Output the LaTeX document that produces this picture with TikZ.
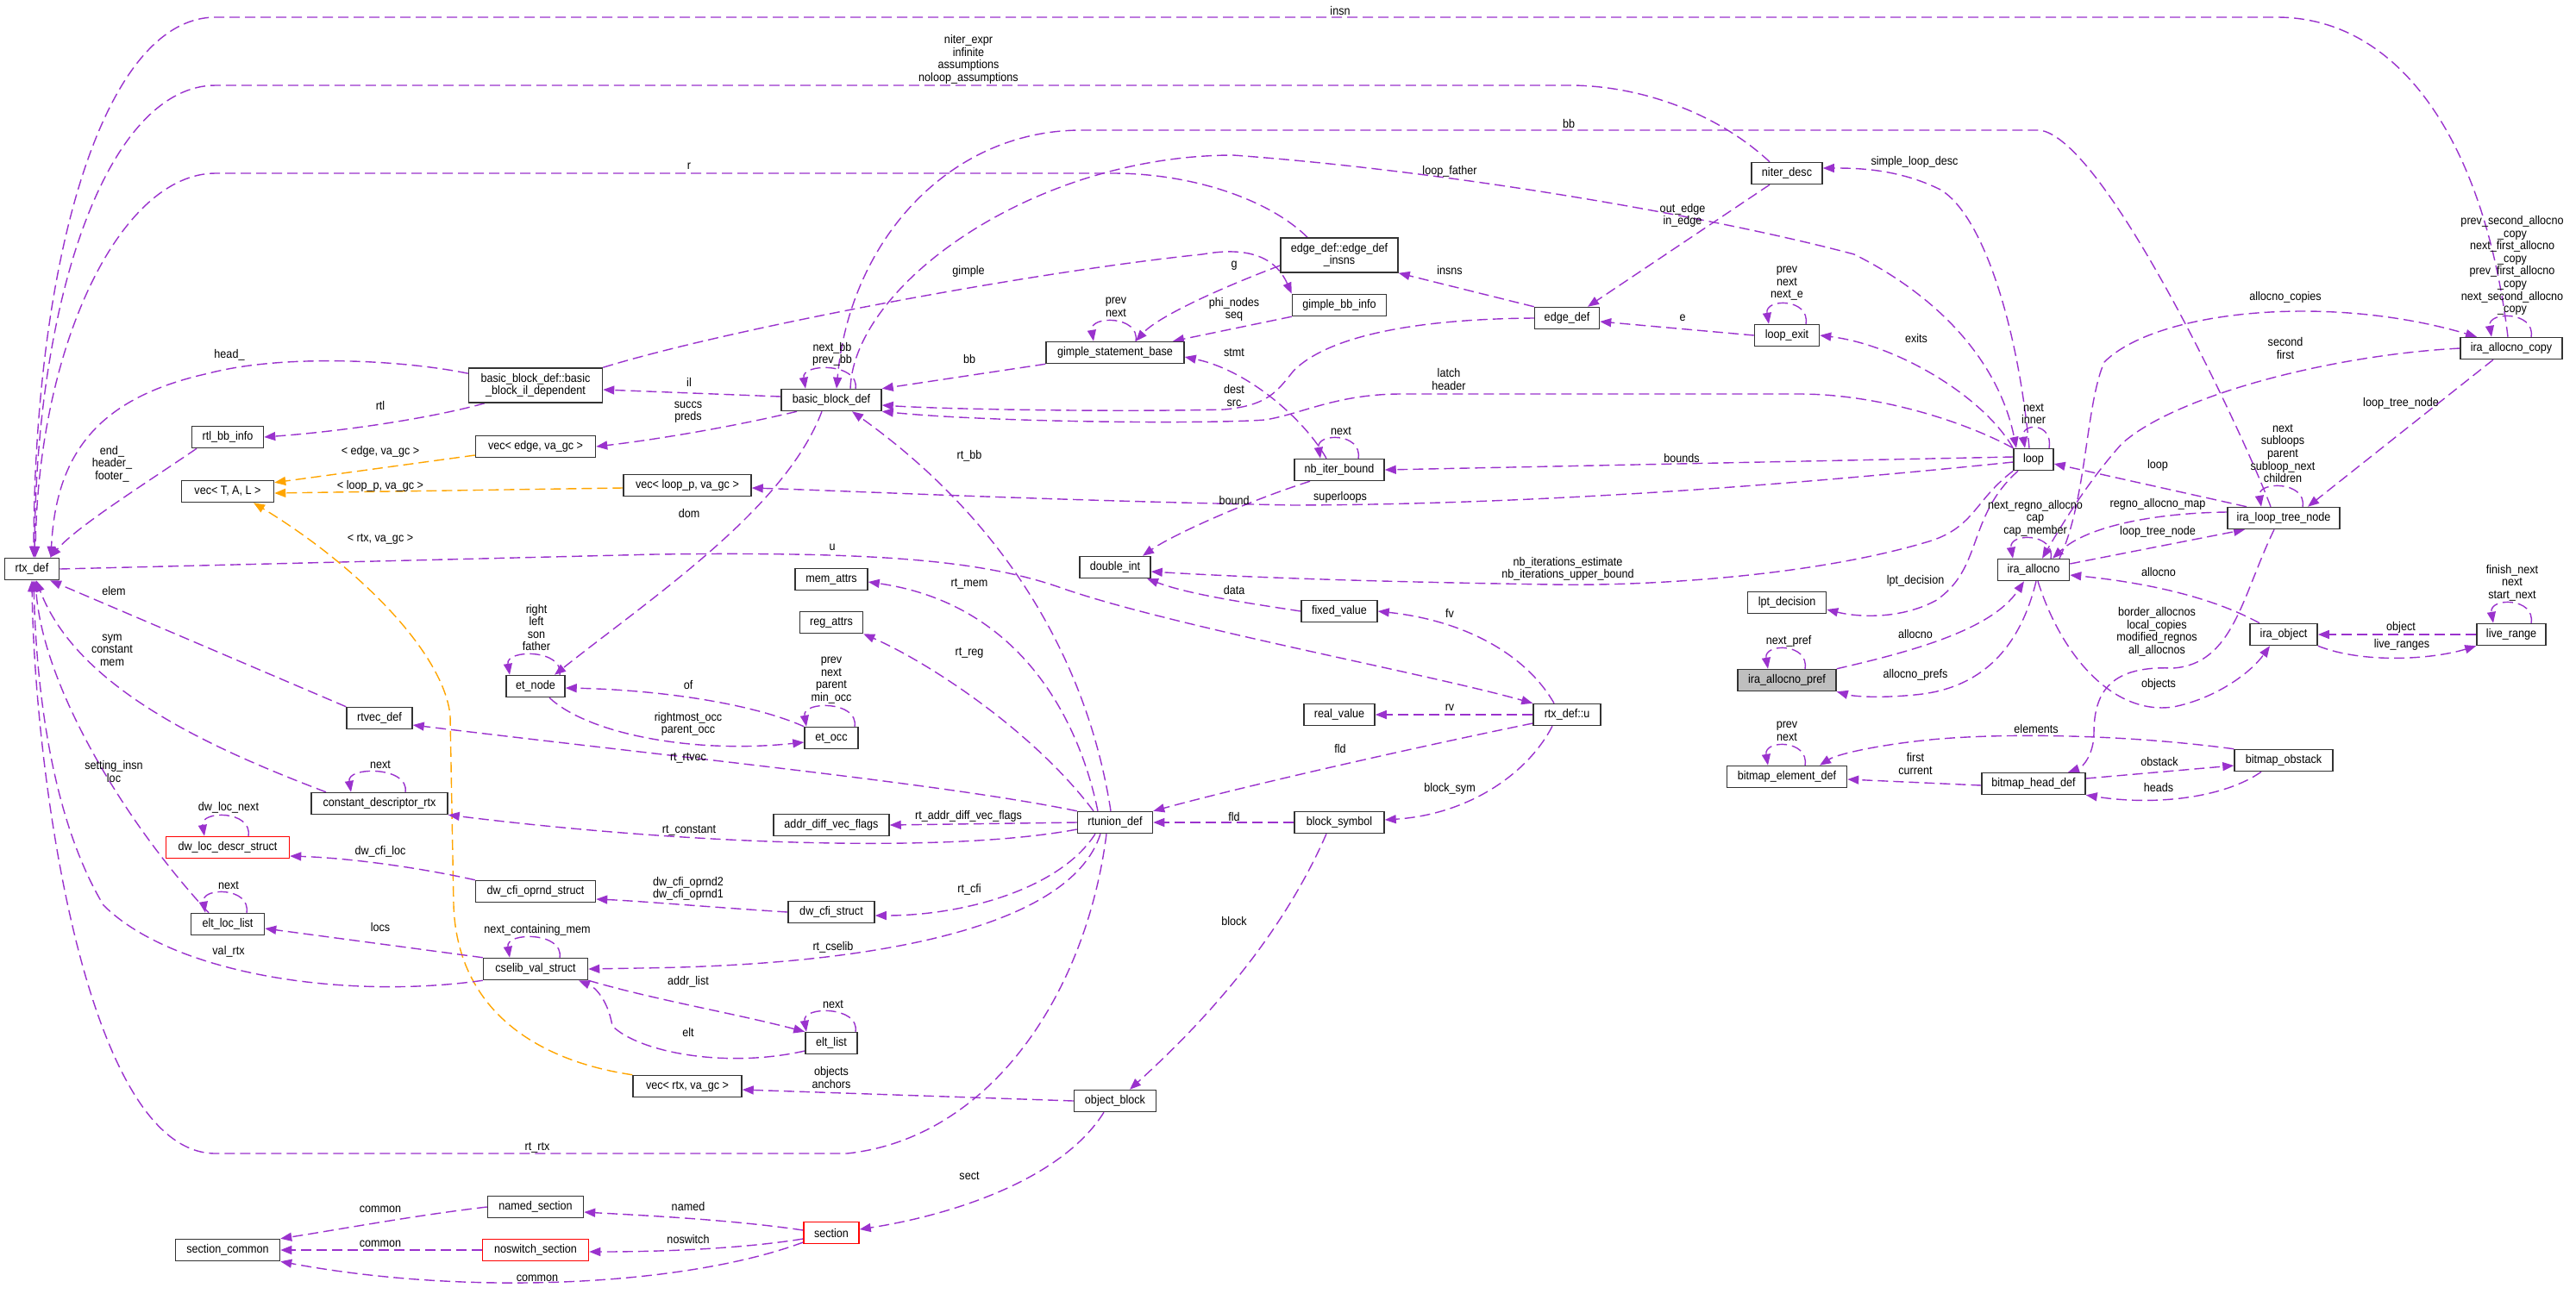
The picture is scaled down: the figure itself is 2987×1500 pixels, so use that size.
\documentclass[tikz,border=0pt]{standalone}
\usepackage{fontspec}
\setmainfont{Liberation Sans}[FakeStretch=0.9]
\usetikzlibrary{arrows.meta}
\definecolor{ec}{RGB}{154,50,205}
\definecolor{oc}{RGB}{255,165,0}
\definecolor{bc}{RGB}{51,51,51}
\definecolor{gf}{RGB}{191,191,191}
\pgfdeclarelayer{bg}
\pgfsetlayers{bg,main}
\newcommand\lblfont{\fontsize{14pt}{14.6pt}\selectfont}
\newcommand\myloop[3]{\draw[e] ([xshift=#2pt]#1.north) .. controls +(5,-30) and +(-5,-30) .. ([xshift=#3pt]#1.north);}
\begin{document}
\begin{tikzpicture}[x=1pt,y=-1pt,
  box/.style={draw=bc, line width=1.5pt, fill=white, minimum height=25pt, inner sep=0pt, font=\lblfont, align=center},
  box2/.style={box, minimum height=40pt},
  boxr/.style={box, draw=red},
  boxg/.style={box, fill=gf},
  lbl/.style={font=\lblfont, align=center, inner sep=0pt},
  e/.style={draw=ec, line width=1.4pt, dash pattern=on 12pt off 6pt, -{Triangle[length=13pt,width=10pt]}},
  eo/.style={e, draw=oc}]
\useasboundingbox (0,0) rectangle (2987,1500);
% ---------- nodes
\node[box, minimum width=63pt] (rtx) at (37,660) {rtx\_def};
\node[box, minimum width=83pt] (rtlbb) at (264,507) {rtl\_bb\_info};
\node[box, minimum width=107pt] (vecT) at (264,570) {vec< T, A, L >};
\node[box2, minimum width=155pt] (bbil) at (621,447) {basic\_block\_def::basic\\\_block\_il\_dependent};
\node[box, minimum width=139pt] (vecE) at (621,518) {vec< edge, va\_gc >};
\node[box, minimum width=148pt] (vecL) at (797,563) {vec< loop\_p, va\_gc >};
\node[box, minimum width=68pt] (etnode) at (621,796) {et\_node};
\node[box, minimum width=76pt] (rtvec) at (440,833) {rtvec\_def};
\node[box, minimum width=158pt] (cdr) at (440,932) {constant\_descriptor\_rtx};
\node[boxr, minimum width=143pt] (dwloc) at (264,983) {dw\_loc\_descr\_struct};
\node[box, minimum width=139pt] (dwcfio) at (621,1034) {dw\_cfi\_oprnd\_struct};
\node[box, minimum width=85pt] (eltloc) at (264,1072) {elt\_loc\_list};
\node[box, minimum width=121pt] (cselib) at (621,1124) {cselib\_val\_struct};
\node[box, minimum width=126pt] (vecR) at (797,1260) {vec< rtx, va\_gc >};
\node[box, minimum width=111pt] (named) at (621,1400) {named\_section};
\node[box, minimum width=121pt] (seccom) at (264,1450) {section\_common};
\node[boxr, minimum width=123pt] (noswitch) at (621,1450) {noswitch\_section};
\node[box, minimum width=116pt] (bbdef) at (964,464) {basic\_block\_def};
\node[box, minimum width=160pt] (gsb) at (1293,409) {gimple\_statement\_base};
\node[box2, minimum width=136pt] (einsns) at (1553,296) {edge\_def::edge\_def\\\_insns};
\node[box, minimum width=109pt] (gbb) at (1553,354) {gimple\_bb\_info};
\node[box, minimum width=75pt] (edgedef) at (1817,369) {edge\_def};
\node[box, minimum width=82pt] (niter) at (2072,201) {niter\_desc};
\node[box, minimum width=75pt] (lexit) at (2072,389) {loop\_exit};
\node[box, minimum width=104pt] (nbiter) at (1553,545) {nb\_iter\_bound};
\node[box, minimum width=82pt] (dint) at (1293,658) {double\_int};
\node[box, minimum width=84pt] (memattrs) at (964,672) {mem\_attrs};
\node[box, minimum width=73pt] (regattrs) at (964,722) {reg\_attrs};
\node[box, minimum width=62pt] (etocc) at (964,856) {et\_occ};
\node[box, minimum width=134pt] (adv) at (964,957) {addr\_diff\_vec\_flags};
\node[box, minimum width=87pt] (rtunion) at (1293,954) {rtunion\_def};
\node[box, minimum width=100pt] (dwcfi) at (964,1058) {dw\_cfi\_struct};
\node[box, minimum width=60pt] (eltlist) at (964,1210) {elt\_list};
\node[box, minimum width=95pt] (objblock) at (1293,1277) {object\_block};
\node[boxr, minimum width=64pt] (section) at (964,1430) {section};
\node[box, minimum width=88pt] (fixedv) at (1553,709) {fixed\_value};
\node[box, minimum width=82pt] (realv) at (1553,829) {real\_value};
\node[box, minimum width=78pt] (rtxu) at (1817,829) {rtx\_def::u};
\node[box, minimum width=104pt] (blocksym) at (1553,954) {block\_symbol};
\node[box, minimum width=46pt] (loop) at (2358,533) {loop};
\node[box, minimum width=91pt] (lpt) at (2072,699) {lpt\_decision};
\node[boxg, minimum width=114pt] (pref) at (2072,789) {ira\_allocno\_pref};
\node[box, minimum width=139pt] (bed) at (2072,901) {bitmap\_element\_def};
\node[box, minimum width=83pt] (allocno) at (2358,661) {ira\_allocno};
\node[box, minimum width=130pt] (iltn) at (2648,601) {ira\_loop\_tree\_node};
\node[box, minimum width=118pt] (copy) at (2912,404) {ira\_allocno\_copy};
\node[box, minimum width=78pt] (iobj) at (2648,736) {ira\_object};
\node[box, minimum width=80pt] (lrange) at (2912,736) {live\_range};
\node[box, minimum width=114pt] (bobst) at (2648,882) {bitmap\_obstack};
\node[box, minimum width=120pt] (bhead) at (2358,909) {bitmap\_head\_def};
% ---------- labels
\node[lbl] (l01) at (1554,12) {insn};
\node[lbl] (l02) at (1123,69) {niter\_expr\\infinite\\assumptions\\noloop\_assumptions};
\node[lbl] (l03) at (799,193) {r};
\node[lbl] (l04) at (1819,143) {bb};
\node[lbl] (l05) at (1681,199) {loop\_father};
\node[lbl] (l06) at (2220,188) {simple\_loop\_desc};
\node[lbl] (l07) at (1680,440) {latch\\header};
\node[lbl] (l08) at (1431,459) {dest\\src};
\node[lbl] (l09) at (1123,315) {gimple};
\node[lbl] (l10) at (799,443) {il};
\node[lbl] (l11) at (798,478) {succs\\preds};
\node[lbl] (l12) at (1431,308) {g};
\node[lbl] (l13) at (1431,359) {phi\_nodes\\seq};
\node[lbl] (l14) at (1294,356) {prev\\next};
\node[lbl] (l15) at (1124,416) {bb};
\node[lbl] (l16) at (1431,409) {stmt};
\node[lbl] (l17) at (965,411) {next\_bb\\prev\_bb};
\node[lbl] (l18) at (1681,313) {insns};
\node[lbl] (l19) at (1951,250) {out\_edge\\in\_edge};
\node[lbl] (l20) at (1951,369) {e};
\node[lbl] (l21) at (2072,329) {prev\\next\\next\_e};
\node[lbl] (l22) at (2222,392) {exits};
\node[lbl] (l23) at (2358,480) {next\\inner};
\node[lbl] (l24) at (2650,345) {allocno\_copies};
\node[lbl] (l25) at (2650,404) {second\\first};
\node[lbl] (l26) at (2784,468) {loop\_tree\_node};
\node[lbl] (l27) at (2913,308) {prev\_second\_allocno\\\_copy\\next\_first\_allocno\\\_copy\\prev\_first\_allocno\\\_copy\\next\_second\_allocno\\\_copy};
\node[lbl] (l28) at (2647,526) {next\\subloops\\parent\\subloop\_next\\children};
\node[lbl] (l29) at (2502,540) {loop};
\node[lbl] (l30) at (2502,585) {regno\_allocno\_map};
\node[lbl] (l31) at (2502,617) {loop\_tree\_node};
\node[lbl] (l32) at (2360,601) {next\_regno\_allocno\\cap\\cap\_member};
\node[lbl] (l33) at (2503,663) {allocno};
\node[lbl] (l34) at (2501,733) {border\_allocnos\\local\_copies\\modified\_regnos\\all\_allocnos};
\node[lbl] (l35) at (2503,794) {objects};
\node[lbl] (l36) at (2784,728) {object};
\node[lbl] (l37) at (2785,748) {live\_ranges};
\node[lbl] (l38) at (2913,676) {finish\_next\\next\\start\_next};
\node[lbl] (l39) at (2361,845) {elements};
\node[lbl] (l40) at (2221,886) {first\\current};
\node[lbl] (l41) at (2072,848) {prev\\next};
\node[lbl] (l42) at (2504,883) {obstack};
\node[lbl] (l43) at (2503,913) {heads};
\node[lbl] (l44) at (2074,744) {next\_pref};
\node[lbl] (l45) at (2221,735) {allocno};
\node[lbl] (l46) at (2221,783) {allocno\_prefs};
\node[lbl] (l47) at (2221,674) {lpt\_decision};
\node[lbl] (l48) at (1950,531) {bounds};
\node[lbl] (l49) at (1554,577) {superloops};
\node[lbl] (l50) at (1431,580) {bound};
\node[lbl] (l51) at (1818,660) {nb\_iterations\_estimate\\nb\_iterations\_upper\_bound};
\node[lbl] (l52) at (1431,684) {data};
\node[lbl] (l53) at (1681,711) {fv};
\node[lbl] (l54) at (1681,821) {rv};
\node[lbl] (l55) at (1554,868) {fld};
\node[lbl] (l56) at (1431,947) {fld};
\node[lbl] (l57) at (1681,915) {block\_sym};
\node[lbl] (l58) at (1431,1068) {block};
\node[lbl] (l59) at (965,635) {u};
\node[lbl] (l60) at (441,625) {< rtx, va\_gc >};
\node[lbl] (l61) at (441,524) {< edge, va\_gc >};
\node[lbl] (l62) at (441,564) {< loop\_p, va\_gc >};
\node[lbl] (l63) at (799,595) {dom};
\node[lbl] (l64) at (622,728) {right\\left\\son\\father};
\node[lbl] (l65) at (798,794) {of};
\node[lbl] (l66) at (798,840) {rightmost\_occ\\parent\_occ};
\node[lbl] (l67) at (964,789) {prev\\next\\parent\\min\_occ};
\node[lbl] (l68) at (1124,529) {rt\_bb};
\node[lbl] (l69) at (1124,677) {rt\_mem};
\node[lbl] (l70) at (1124,757) {rt\_reg};
\node[lbl] (l71) at (798,879) {rt\_rtvec};
\node[lbl] (l72) at (1123,947) {rt\_addr\_diff\_vec\_flags};
\node[lbl] (l73) at (799,963) {rt\_constant};
\node[lbl] (l74) at (441,887) {next};
\node[lbl] (l75) at (132,685) {elem};
\node[lbl] (l76) at (130,754) {sym\\constant\\mem};
\node[lbl] (l77) at (132,895) {setting\_insn\\loc};
\node[lbl] (l78) at (265,1104) {val\_rtx};
\node[lbl] (l79) at (623,1331) {rt\_rtx};
\node[lbl] (l80) at (265,937) {dw\_loc\_next};
\node[lbl] (l81) at (441,988) {dw\_cfi\_loc};
\node[lbl] (l82) at (798,1031) {dw\_cfi\_oprnd2\\dw\_cfi\_oprnd1};
\node[lbl] (l83) at (1124,1032) {rt\_cfi};
\node[lbl] (l84) at (966,1099) {rt\_cselib};
\node[lbl] (l85) at (623,1079) {next\_containing\_mem};
\node[lbl] (l86) at (441,1075) {locs};
\node[lbl] (l87) at (265,1027) {next};
\node[lbl] (l88) at (798,1139) {addr\_list};
\node[lbl] (l89) at (798,1197) {elt};
\node[lbl] (l90) at (966,1165) {next};
\node[lbl] (l91) at (964,1250) {objects\\anchors};
\node[lbl] (l92) at (1124,1364) {sect};
\node[lbl] (l93) at (798,1399) {named};
\node[lbl] (l94) at (798,1437) {noswitch};
\node[lbl] (l95) at (623,1483) {common};
\node[lbl] (l96) at (441,1403) {common};
\node[lbl] (l97) at (441,1443) {common};
\node[lbl] (l98) at (266,412) {head\_};
\node[lbl] (l99) at (441,470) {rtl};
\node[lbl] (l100) at (130,538) {end\_\\header\_\\footer\_};
\node[lbl] (l101) at (1555,500) {next};
% ---------- edges
\begin{pgfonlayer}{bg}
% long top curves into rtx_def
\draw[e] ([xshift=-4pt]copy.north) .. controls (2880,160) and (2780,20) .. (2640,20) -- (250,20) .. controls (120,20) and (40,300) .. ([xshift=2pt]rtx.north);
\draw[e] ([xshift=-20pt]niter.north) .. controls (1990,130) and (1900,99) .. (1820,99) -- (250,99) .. controls (130,99) and (42,330) .. ([xshift=3pt]rtx.north);
\draw[e] ([xshift=-37pt]einsns.north) .. controls (1470,230) and (1380,201) .. (1290,201) -- (250,201) .. controls (140,201) and (44,400) .. ([xshift=4pt]rtx.north);
\draw[e] (bbil.170) .. controls (470,418) and (330,410) .. (242,433) .. controls (120,460) and (65,520) .. ([xshift=22pt]rtx.north);
\draw[e] ([xshift=-36pt]rtlbb.south) .. controls (170,560) and (90,610) .. ([xshift=21pt]rtx.north);
% basic block area
\draw[e] ([xshift=-15pt]iltn.north) .. controls (2600,500) and (2440,160) .. (2365,151) -- (1254,151) .. controls (1100,151) and (985,280) .. ([xshift=6pt]bbdef.north);
\draw[e] ([xshift=22pt]bbdef.north) .. controls (990,330) and (1200,180) .. (1430,180) .. controls (1700,200) and (2000,255) .. (2150,295) .. controls (2260,350) and (2320,430) .. ([xshift=-20pt]loop.north);
\draw[e] ([xshift=-5pt]loop.north) .. controls (2340,380) and (2300,250) .. (2250,220) .. controls (2200,195) and (2150,195) .. ([yshift=6pt]niter.east);
\draw[e] (loop.north west) .. controls (2300,460) and (2200,400) .. (lexit.east);
\draw[e] (loop.north west) .. controls (2280,490) and (2180,457) .. (2086,457) -- (1625,457) .. controls (1550,457) and (1510,480) .. (1467,487) .. controls (1400,492) and (1150,490) .. (bbdef.south east);
\draw[e] (edgedef.west) .. controls (1640,370) and (1540,390) .. (1500,430) .. controls (1480,455) and (1470,470) .. (1420,475) .. controls (1300,478) and (1100,475) .. ([yshift=-6pt]bbdef.east);
\draw[e] ([xshift=-15pt]nbiter.north) .. controls (1515,490) and (1450,430) .. ([yshift=-5pt]gsb.east);
\draw[e] (gsb.south west) -- (bbdef.north east);
\draw[e] ([yshift=-12pt]einsns.west) .. controls (1400,340) and (1340,370) .. ([xshift=24pt]gsb.north);
\draw[e] (gbb.south west) -- ([xshift=67pt]gsb.north);
\myloop{gsb}{24}{-25}
\draw[e] (bbil.north east) .. controls (850,380) and (1200,315) .. (1394,295) .. controls (1450,285) and (1480,300) .. (gbb.north west);
\draw[e] ([yshift=4pt]bbdef.west) -- ([yshift=-5pt]bbil.east);
\draw[e] ([xshift=-40pt]bbdef.south) .. controls (850,495) and (760,510) .. (vecE.east);
\draw[e] ([xshift=-59pt]bbil.south) .. controls (500,485) and (400,500) .. (rtlbb.east);
\myloop{bbdef}{28}{-30}
\draw[e] (edgedef.north west) -- (einsns.south east);
\draw[e] ([xshift=-20pt]niter.south) -- ([xshift=24pt]edgedef.north);
\draw[e] (lexit.west) -- ([yshift=-4pt]edgedef.east);
\myloop{lexit}{22}{-21}
\myloop{loop}{18}{-10}
\myloop{nbiter}{22}{-22}
% ira area
\draw[e] ([xshift=30pt]allocno.north) .. controls (2420,580) and (2418,470) .. (2440,420) .. controls (2500,360) and (2700,340) .. ([xshift=-40pt]copy.north);
\draw[e] (copy.west) .. controls (2700,412) and (2520,460) .. (2460,515) .. controls (2420,560) and (2390,610) .. ([xshift=10pt]allocno.north);
\draw[e] ([xshift=-21pt]copy.south) -- ([xshift=28pt]iltn.north);
\myloop{copy}{23}{-23}
\myloop{iltn}{22}{-26}
\draw[e] ([xshift=-43pt]iltn.north) -- ([yshift=-5pt]loop.east);
\draw[e] ([yshift=7pt]iltn.west) .. controls (2500,595) and (2420,610) .. ([xshift=22pt]allocno.north);
\draw[e] ([yshift=7pt]allocno.east) -- ([xshift=-45pt]iltn.south);
\myloop{allocno}{20}{-24}
\draw[e] ([xshift=-28pt]iobj.north) .. controls (2560,690) and (2480,675) .. ([yshift=-6pt]allocno.east);
\draw[e] ([xshift=-11pt]iltn.south) .. controls (2600,690) and (2590,770) .. (2520,775) .. controls (2450,772) and (2428,800) .. (2428,850) .. controls (2428,875) and (2415,890) .. ([xshift=40pt]bhead.north);
\draw[e] ([xshift=5pt]allocno.south) .. controls (2390,760) and (2450,830) .. (2520,820) .. controls (2570,810) and (2610,780) .. ([xshift=-16pt]iobj.south);
\draw[e] (lrange.west) -- (iobj.east);
\draw[e] (iobj.south east) .. controls (2740,770) and (2820,765) .. (lrange.south west);
\myloop{lrange}{23}{-21}
\draw[e] (bobst.north west) .. controls (2450,850) and (2300,850) .. (2220,860) .. controls (2170,866) and (2130,875) .. ([xshift=38pt]bed.north);
\draw[e] ([yshift=-2pt]bhead.west) -- ([yshift=-3pt]bed.east);
\myloop{bed}{21}{-22}
\draw[e] ([yshift=6pt]bhead.east) -- ([yshift=-6pt]bobst.west);
\draw[e] ([xshift=-26pt]bobst.south) .. controls (2580,925) and (2500,935) .. (bhead.south east);
\myloop{pref}{21}{-22}
\draw[e] (pref.north east) .. controls (2220,755) and (2310,730) .. ([xshift=-11pt]allocno.south);
\draw[e] ([xshift=3pt]allocno.south) .. controls (2340,760) and (2290,800) .. (2220,806) .. controls (2180,810) and (2150,808) .. (pref.south east);
\draw[e] ([xshift=-18pt]loop.south) .. controls (2280,600) and (2300,660) .. (2244,697) .. controls (2200,720) and (2150,715) .. ([yshift=-8pt]lpt.east);
\draw[e] (loop.south west) .. controls (2290,580) and (2290,610) .. (2240,627) .. controls (2100,670) and (1900,680) .. (1800,678) .. controls (1600,675) and (1450,670) .. ([yshift=-5pt]dint.east);
\draw[e] ([yshift=3pt]loop.west) -- (nbiter.east);
\draw[e] ([yshift=-3pt]loop.west) .. controls (2100,560) and (1800,585) .. (1500,586) .. controls (1200,580) and (1000,570) .. ([yshift=-3pt]vecL.east);
\draw[e] ([xshift=-34pt]nbiter.south) .. controls (1450,580) and (1360,620) .. ([xshift=32pt]dint.north);
\draw[e] (fixedv.west) .. controls (1450,700) and (1380,690) .. ([xshift=37pt]dint.south);
% rtx_def::u area
\draw[e] ([xshift=-15pt]rtxu.north) .. controls (1770,760) and (1700,720) .. (fixedv.east);
\draw[e] (rtxu.west) -- (realv.east);
\draw[e] ([yshift=-10pt]rtxu.west) .. controls (1650,865) and (1450,910) .. (rtunion.north east);
\draw[e] (blocksym.west) -- (rtunion.east);
\draw[e] ([xshift=-17pt]rtxu.south) .. controls (1770,900) and (1700,945) .. ([yshift=3pt]blocksym.east);
\draw[e] ([xshift=-15pt]blocksym.south) .. controls (1480,1100) and (1380,1200) .. ([xshift=17pt]objblock.north);
\draw[e] (rtx.east) -- (760,643) .. controls (1000,640) and (1130,648) .. (1225,680) .. controls (1350,725) and (1650,780) .. (rtxu.north west);
% template instances
\draw[eo] (vecR.north west) .. controls (620,1230) and (530,1170) .. (526,1050) -- (522,830) .. controls (515,760) and (420,660) .. ([xshift=30pt]vecT.south);
\draw[eo] ([yshift=-10pt]vecE.west) -- ([yshift=-3pt]vecT.north east);
\draw[eo] ([yshift=-3pt]vecL.west) -- ([yshift=-2pt]vecT.east);
% et
\draw[e] ([xshift=-11pt]bbdef.south) .. controls (910,590) and (760,690) .. ([xshift=22pt]etnode.north);
\myloop{etnode}{28}{-30}
\draw[e] (etocc.north west) .. controls (870,815) and (760,800) .. ([yshift=-2pt]etnode.east);
\draw[e] ([xshift=16pt]etnode.south) .. controls (680,850) and (800,875) .. ([yshift=-5pt]etocc.west);
\myloop{etocc}{27}{-29}
% rtunion_def
\draw[e] ([xshift=-5pt]rtunion.north) .. controls (1260,760) and (1160,600) .. ([xshift=24pt]bbdef.south);
\draw[e] ([xshift=-20pt]rtunion.north) .. controls (1250,830) and (1180,700) .. ([yshift=-3pt]memattrs.east);
\draw[e] ([xshift=-25pt]rtunion.north) .. controls (1200,850) and (1080,770) .. (regattrs.south east);
\draw[e] (rtunion.north west) .. controls (1100,910) and (800,880) .. ([yshift=-8pt]rtvec.east);
\draw[e] (rtunion.west) -- (adv.east);
\draw[e] ([yshift=-8pt]rtunion.west) .. controls (1100,990) and (800,980) .. (cdr.south east);
\myloop{cdr}{30}{-33}
\draw[e] (rtvec.north west) -- ([xshift=21pt]rtx.south);
\draw[e] ([xshift=-62pt]cdr.north) .. controls (250,870) and (90,800) .. ([xshift=5pt]rtx.south);
\draw[e] ([xshift=-22pt]eltloc.north) .. controls (150,960) and (50,800) .. ([xshift=4pt]rtx.south);
\draw[e] (cselib.south west) .. controls (400,1160) and (200,1130) .. (120,1050) .. controls (60,950) and (42,800) .. ([xshift=2pt]rtx.south);
\draw[e] ([xshift=-10pt]rtunion.south) .. controls (1260,1150) and (1150,1320) .. (982,1338) -- (250,1338) .. controls (100,1338) and (40,900) .. (rtx.south);
\myloop{dwloc}{24}{-27}
\draw[e] (dwcfio.north west) .. controls (480,1005) and (400,995) .. ([yshift=-10pt]dwloc.east);
\draw[e] (dwcfi.west) .. controls (820,1052) and (740,1045) .. ([yshift=-9pt]dwcfio.east);
\draw[e] ([xshift=-23pt]rtunion.south) .. controls (1230,1030) and (1120,1062) .. ([yshift=-4pt]dwcfi.east);
\draw[e] ([xshift=-17pt]rtunion.south) .. controls (1240,1080) and (1000,1120) .. (740,1123) -- (cselib.east);
\myloop{cselib}{28}{-30}
\draw[e] (cselib.north west) -- ([yshift=-5pt]eltloc.east);
\myloop{eltloc}{22}{-26}
\draw[e] (cselib.south east) .. controls (760,1160) and (850,1175) .. (eltlist.north west);
\draw[e] ([yshift=-9pt]eltlist.west) .. controls (840,1240) and (740,1220) .. (710,1190) .. controls (705,1160) and (690,1145) .. ([xshift=50pt]cselib.south);
\myloop{eltlist}{28}{-29}
\draw[e] (objblock.west) -- ([yshift=-4pt]vecR.east);
\draw[e] ([xshift=-13pt]objblock.south) .. controls (1230,1370) and (1100,1410) .. ([yshift=4pt]section.east);
\draw[e] ([yshift=3pt]section.west) .. controls (850,1415) and (750,1410) .. ([yshift=-6pt]named.east);
\draw[e] ([yshift=-7pt]section.west) .. controls (850,1450) and (750,1452) .. ([yshift=-2pt]noswitch.east);
\draw[e] ([yshift=-11pt]section.west) .. controls (800,1490) and (550,1505) .. (seccom.south east);
\draw[e] (named.west) .. controls (480,1410) and (400,1425) .. (seccom.north east);
\draw[e] (noswitch.west) -- (seccom.east);
\end{pgfonlayer}
\end{tikzpicture}
\end{document}
